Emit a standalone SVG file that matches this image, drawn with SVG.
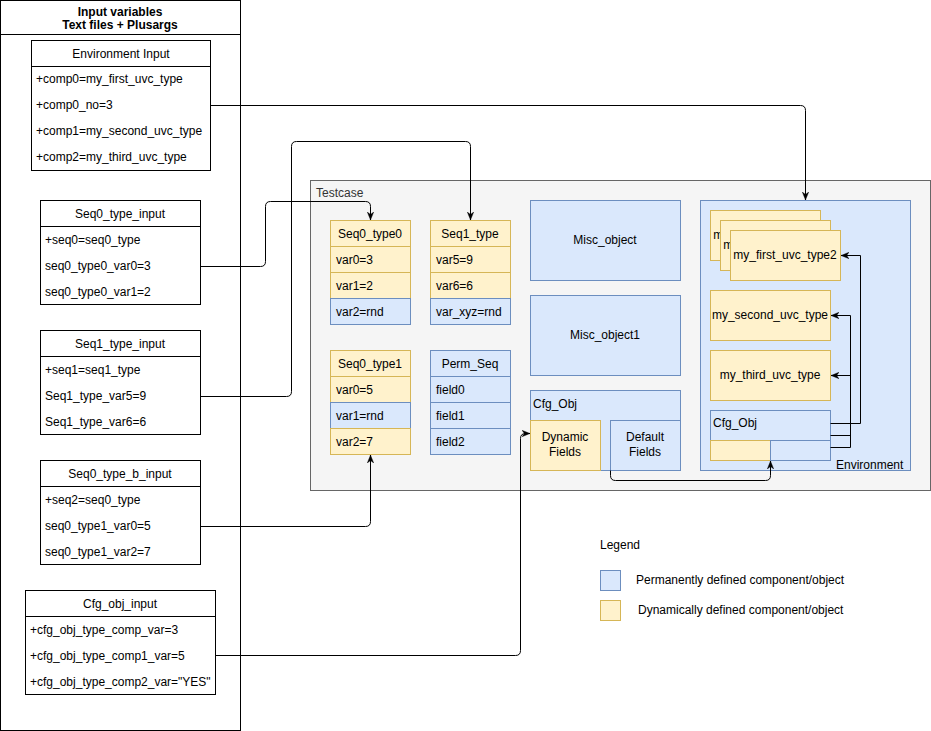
<svg xmlns="http://www.w3.org/2000/svg" width="931" height="731" viewBox="0 0 931 731">
<style>
text{font-family:"Liberation Sans",Arial,Helvetica,sans-serif;font-size:12px;fill:#000}
.c{text-anchor:middle}
.b{font-weight:bold}
.g{fill:#333}
.box{fill:#fff;stroke:#000;stroke-width:1}
.blue{fill:#dae8fc;stroke:#6c8ebf;stroke-width:1}
.yel{fill:#fff2cc;stroke:#d6b656;stroke-width:1}
.tc{fill:#f5f5f5;stroke:#666;stroke-width:1}
.ln{fill:none;stroke:#000;stroke-width:1}
.ar{fill:none;stroke:#000;stroke-width:1;marker-end:url(#arr)}
</style>
<defs>
<marker id="arr" viewBox="0 0 10 10" refX="10" refY="5" markerWidth="8" markerHeight="8" markerUnits="userSpaceOnUse" orient="auto">
<path d="M0,1 L10,5 L0,9 L3,5 Z" fill="#000" stroke="#000" stroke-width="0.5"/>
</marker>
<clipPath id="clip0"><rect x="711" y="211" width="9" height="49"/></clipPath>
<clipPath id="clip1"><rect x="721" y="221" width="9" height="49"/></clipPath>
</defs>
<rect width="931" height="731" fill="#fff"/>

<!-- Left panel -->
<g id="input-panel">
<rect class="box" x="0.5" y="0.5" width="240" height="730"/>
<line class="ln" x1="0.5" y1="34.5" x2="240.5" y2="34.5"/>
<text class="c b" x="120" y="16">Input variables</text>
<text class="c b" x="120" y="29">Text files + Plusargs</text>
</g>

<g id="env-input">
<rect class="box" x="31.5" y="40.5" width="179" height="130"/>
<line class="ln" x1="31.5" y1="66.5" x2="210.5" y2="66.5"/>
<text class="c" x="121" y="58">Environment Input</text>
<text x="36" y="83">+comp0=my_first_uvc_type</text>
<text x="36" y="109">+comp0_no=3</text>
<text x="36" y="135">+comp1=my_second_uvc_type</text>
<text x="36" y="161">+comp2=my_third_uvc_type</text>
</g>

<g id="seq0-input">
<rect class="box" x="40.5" y="200.5" width="160" height="104"/>
<line class="ln" x1="40.5" y1="226.5" x2="200.5" y2="226.5"/>
<text class="c" x="120" y="218">Seq0_type_input</text>
<text x="45" y="244">+seq0=seq0_type</text>
<text x="45" y="270">seq0_type0_var0=3</text>
<text x="45" y="296">seq0_type0_var1=2</text>
</g>

<g id="seq1-input">
<rect class="box" x="40.5" y="330.5" width="160" height="104"/>
<line class="ln" x1="40.5" y1="356.5" x2="200.5" y2="356.5"/>
<text class="c" x="120" y="348">Seq1_type_input</text>
<text x="45" y="374">+seq1=seq1_type</text>
<text x="45" y="400">Seq1_type_var5=9</text>
<text x="45" y="426">Seq1_type_var6=6</text>
</g>

<g id="seq0b-input">
<rect class="box" x="40.5" y="460.5" width="160" height="104"/>
<line class="ln" x1="40.5" y1="486.5" x2="200.5" y2="486.5"/>
<text class="c" x="120" y="478">Seq0_type_b_input</text>
<text x="45" y="504">+seq2=seq0_type</text>
<text x="45" y="530">seq0_type1_var0=5</text>
<text x="45" y="556">seq0_type1_var2=7</text>
</g>

<g id="cfg-input">
<rect class="box" x="25.5" y="590.5" width="190" height="104"/>
<line class="ln" x1="25.5" y1="616.5" x2="215.5" y2="616.5"/>
<text class="c" x="120" y="608">Cfg_obj_input</text>
<text x="30" y="634">+cfg_obj_type_comp_var=3</text>
<text x="30" y="660">+cfg_obj_type_comp1_var=5</text>
<text x="30" y="686">+cfg_obj_type_comp2_var="YES"</text>
</g>

<!-- Testcase -->
<g id="testcase">
<rect class="tc" x="310.5" y="180.5" width="620" height="310"/>
<text class="g" x="316" y="197">Testcase</text>
</g>

<g id="seq0-type0">
<rect class="yel" x="330.5" y="220.5" width="80" height="26"/>
<rect class="yel" x="330.5" y="246.5" width="80" height="26"/>
<rect class="yel" x="330.5" y="272.5" width="80" height="26"/>
<rect class="blue" x="330.5" y="298.5" width="80" height="26"/>
<text class="c" x="370" y="238">Seq0_type0</text>
<text x="336" y="264">var0=3</text>
<text x="336" y="290">var1=2</text>
<text x="336" y="316">var2=rnd</text>
</g>

<g id="seq1-type">
<rect class="yel" x="430.5" y="220.5" width="80" height="26"/>
<rect class="yel" x="430.5" y="246.5" width="80" height="26"/>
<rect class="yel" x="430.5" y="272.5" width="80" height="26"/>
<rect class="blue" x="430.5" y="298.5" width="80" height="26"/>
<text class="c" x="470" y="238">Seq1_type</text>
<text x="436" y="264">var5=9</text>
<text x="436" y="290">var6=6</text>
<text x="436" y="316">var_xyz=rnd</text>
</g>

<g id="seq0-type1">
<rect class="yel" x="330.5" y="350.5" width="80" height="26"/>
<rect class="yel" x="330.5" y="376.5" width="80" height="26"/>
<rect class="blue" x="330.5" y="402.5" width="80" height="26"/>
<rect class="yel" x="330.5" y="428.5" width="80" height="26"/>
<text class="c" x="370" y="368">Seq0_type1</text>
<text x="336" y="394">var0=5</text>
<text x="336" y="420">var1=rnd</text>
<text x="336" y="446">var2=7</text>
</g>

<g id="perm-seq">
<rect class="blue" x="430.5" y="350.5" width="80" height="26"/>
<rect class="blue" x="430.5" y="376.5" width="80" height="26"/>
<rect class="blue" x="430.5" y="402.5" width="80" height="26"/>
<rect class="blue" x="430.5" y="428.5" width="80" height="26"/>
<text class="c" x="470" y="368">Perm_Seq</text>
<text x="436" y="394">field0</text>
<text x="436" y="420">field1</text>
<text x="436" y="446">field2</text>
</g>

<g id="misc-object">
<rect class="blue" x="530.5" y="200.5" width="150" height="80"/>
<text class="c" x="605" y="244">Misc_object</text>
</g>

<g id="misc-object1">
<rect class="blue" x="530.5" y="295.5" width="150" height="80"/>
<text class="c" x="605" y="339">Misc_object1</text>
</g>

<g id="cfg-obj">
<rect class="blue" x="530.5" y="390.5" width="150" height="80"/>
<text x="533" y="408">Cfg_Obj</text>
<rect class="yel" x="530.5" y="420.5" width="70" height="50"/>
<text class="c" x="565" y="441">Dynamic</text>
<text class="c" x="565" y="456">Fields</text>
<rect class="blue" x="610.5" y="420.5" width="70" height="50"/>
<text class="c" x="645" y="441">Default</text>
<text class="c" x="645" y="456">Fields</text>
</g>

<g id="environment">
<rect class="blue" x="700.5" y="200.5" width="210" height="270"/>
<text x="836" y="469">Environment</text>
</g>

<g id="first-uvc0">
<rect class="yel" x="710.5" y="210.5" width="110" height="50"/>
<text class="c" x="765" y="239" clip-path="url(#clip0)">my_first_uvc_type0</text>
</g>
<g id="first-uvc1">
<rect class="yel" x="720.5" y="220.5" width="110" height="50"/>
<text class="c" x="775" y="249" clip-path="url(#clip1)">my_first_uvc_type1</text>
</g>
<g id="first-uvc2">
<rect class="yel" x="730.5" y="230.5" width="110" height="50"/>
<text class="c" x="785" y="259">my_first_uvc_type2</text>
</g>

<g id="second-uvc">
<rect class="yel" x="710.5" y="290.5" width="120" height="50"/>
<text class="c" x="770" y="319">my_second_uvc_type</text>
</g>

<g id="third-uvc">
<rect class="yel" x="710.5" y="350.5" width="120" height="50"/>
<text class="c" x="770" y="379">my_third_uvc_type</text>
</g>

<g id="env-cfg-obj">
<rect class="blue" x="710.5" y="410.5" width="120" height="50"/>
<text x="713" y="427">Cfg_Obj</text>
<rect class="yel" x="710.5" y="440.5" width="60" height="20"/>
<rect class="blue" x="770.5" y="440.5" width="60" height="20"/>
</g>

<!-- Legend -->
<g id="legend">
<text x="600" y="549">Legend</text>
<rect class="blue" x="600.5" y="570.5" width="20" height="20"/>
<text x="636" y="584">Permanently defined component/object</text>
<rect class="yel" x="600.5" y="600.5" width="20" height="20"/>
<text x="638" y="614">Dynamically defined component/object</text>
</g>

<!-- Connectors -->
<g id="connectors">
<path class="ar" d="M210.5,105.5 L800.5,105.5 Q805.5,105.5 805.5,110.5 L805.5,200"/>
<path class="ar" d="M200.5,266.5 L260.5,266.5 Q265.5,266.5 265.5,261.5 L265.5,206.5 Q265.5,201.5 270.5,201.5 L365.5,201.5 Q370.5,201.5 370.5,206.5 L370.5,220"/>
<path class="ar" d="M200.5,396.5 L286.5,396.5 Q291.5,396.5 291.5,391.5 L291.5,146.5 Q291.5,141.5 296.5,141.5 L465.5,141.5 Q470.5,141.5 470.5,146.5 L470.5,220"/>
<path class="ar" d="M200.5,526.5 L365.5,526.5 Q370.5,526.5 370.5,521.5 L370.5,455"/>
<path class="ar" d="M215.5,655.5 L515.5,655.5 Q520.5,655.5 520.5,650.5 L520.5,438.5 Q520.5,433.5 525.5,433.5 L530,433.5"/>
<path class="ar" d="M610.5,470.5 L610.5,475.5 Q610.5,480.5 615.5,480.5 L765.5,480.5 Q770.5,480.5 770.5,475.5 L770.5,461"/>
<path class="ar" d="M830.5,423.5 L860.5,423.5 L860.5,255.5 L841,255.5"/>
<path class="ar" d="M830.5,435.5 L850.5,435.5 L850.5,315.5 L831,315.5"/>
<path class="ar" d="M830.5,447.5 L850.5,447.5 L850.5,375.5 L831,375.5"/>
</g>
</svg>
